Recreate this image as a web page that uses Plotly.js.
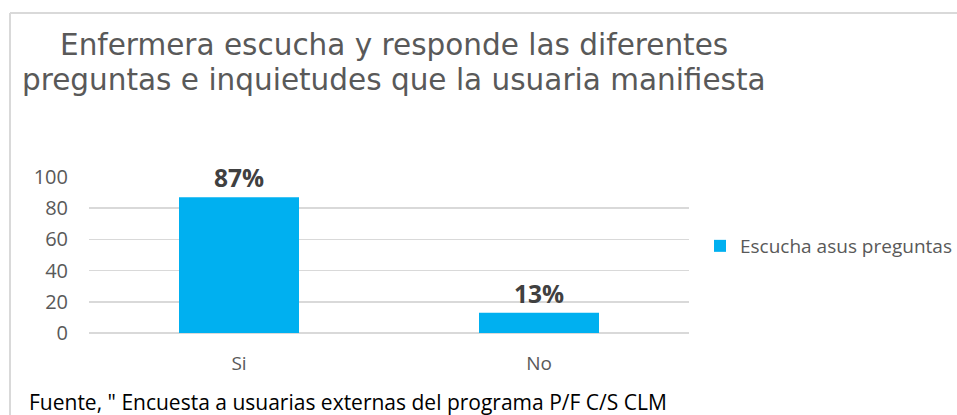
<!DOCTYPE html>
<html><head><meta charset="utf-8">
<script src="https://cdn.plot.ly/plotly-3.0.1.min.js"></script>
<style>html,body{margin:0;padding:0;background:#fff;overflow:hidden}#c{width:957px;height:415px}</style>
</head><body><div id="c"></div>
<script>
const categories = ["Si", "No"];
const values = [87, 13];
const seriesName = "Escucha asus preguntas";
const titleLine1 = "Enfermera escucha y responde las diferentes";
const titleLine2 = "preguntas e inquietudes que la usuaria manifiesta";
const footer = "Fuente, \" Encuesta a usuarias externas del programa P/F C/S CLM";

const W = 957, H = 415, L = 89, R = 268, T = 177, B = 82;
const pw = W - L - R, ph = H - T - B;
const px = x => (x - L) / pw;
const py = y => (H - B - y) / ph;
const FONT = "Open Sans, sans-serif";
const TFONT = "DejaVu Sans, sans-serif";

const data = [{
  type: "bar", x: categories, y: values, name: seriesName,
  marker: {color: "#00b0f0"},
  texttemplate: "%{y}%", textposition: "outside", cliponaxis: false,
  textfont: {family: FONT, size: 24.5, color: "#404040", weight: "bold"},
  showlegend: true
}];

const layout = {
  width: W, height: H,
  margin: {l: L, r: R, t: T, b: B, autoexpand: false},
  paper_bgcolor: "#fff", plot_bgcolor: "#fff",
  bargap: 0.6,
  font: {family: FONT, color: "#595959", size: 19},
  xaxis: {type: "category", showgrid: false, showline: false, zeroline: false,
          ticks: "", ticklabelstandoff: 17, tickfont: {size: 19, color: "#595959"}},
  yaxis: {range: [0, 100], dtick: 20, showgrid: true, gridcolor: "#d9d9d9", gridwidth: 1.5,
          zeroline: true, zerolinecolor: "#d9d9d9", zerolinewidth: 1.5, showline: false,
          ticks: "", ticklabelstandoff: 20, tickfont: {size: 20, color: "#595959"}},
  showlegend: true,
  legend: {x: px(700), xanchor: "left", y: py(246), yanchor: "middle",
           font: {size: 19, color: "#595959"}, itemwidth: 30, bgcolor: "rgba(0,0,0,0)"},
  annotations: [
    {xref: "paper", yref: "paper", x: px(58), y: py(45), xanchor: "left", yanchor: "middle",
     text: titleLine1, showarrow: false, font: {family: TFONT, size: 29.5, color: "#595959"}},
    {xref: "paper", yref: "paper", x: px(20), y: py(80), xanchor: "left", yanchor: "middle",
     text: titleLine2, showarrow: false, font: {family: TFONT, size: 29.5, color: "#595959"}},
    {xref: "paper", yref: "paper", x: px(27), y: py(402), xanchor: "left", yanchor: "middle",
     text: footer, showarrow: false, font: {size: 21, color: "#000000"}}
  ],
  shapes: [
    {type: "line", xref: "paper", yref: "paper", x0: px(10), x1: px(10), y0: py(13), y1: py(420),
     line: {color: "#d9d9d9", width: 2}},
    {type: "line", xref: "paper", yref: "paper", x0: px(10), x1: px(960), y0: py(13), y1: py(13),
     line: {color: "#d9d9d9", width: 2}}
  ]
};
Plotly.newPlot("c", data, layout, {displayModeBar: false, staticPlot: true});
</script></body></html>
